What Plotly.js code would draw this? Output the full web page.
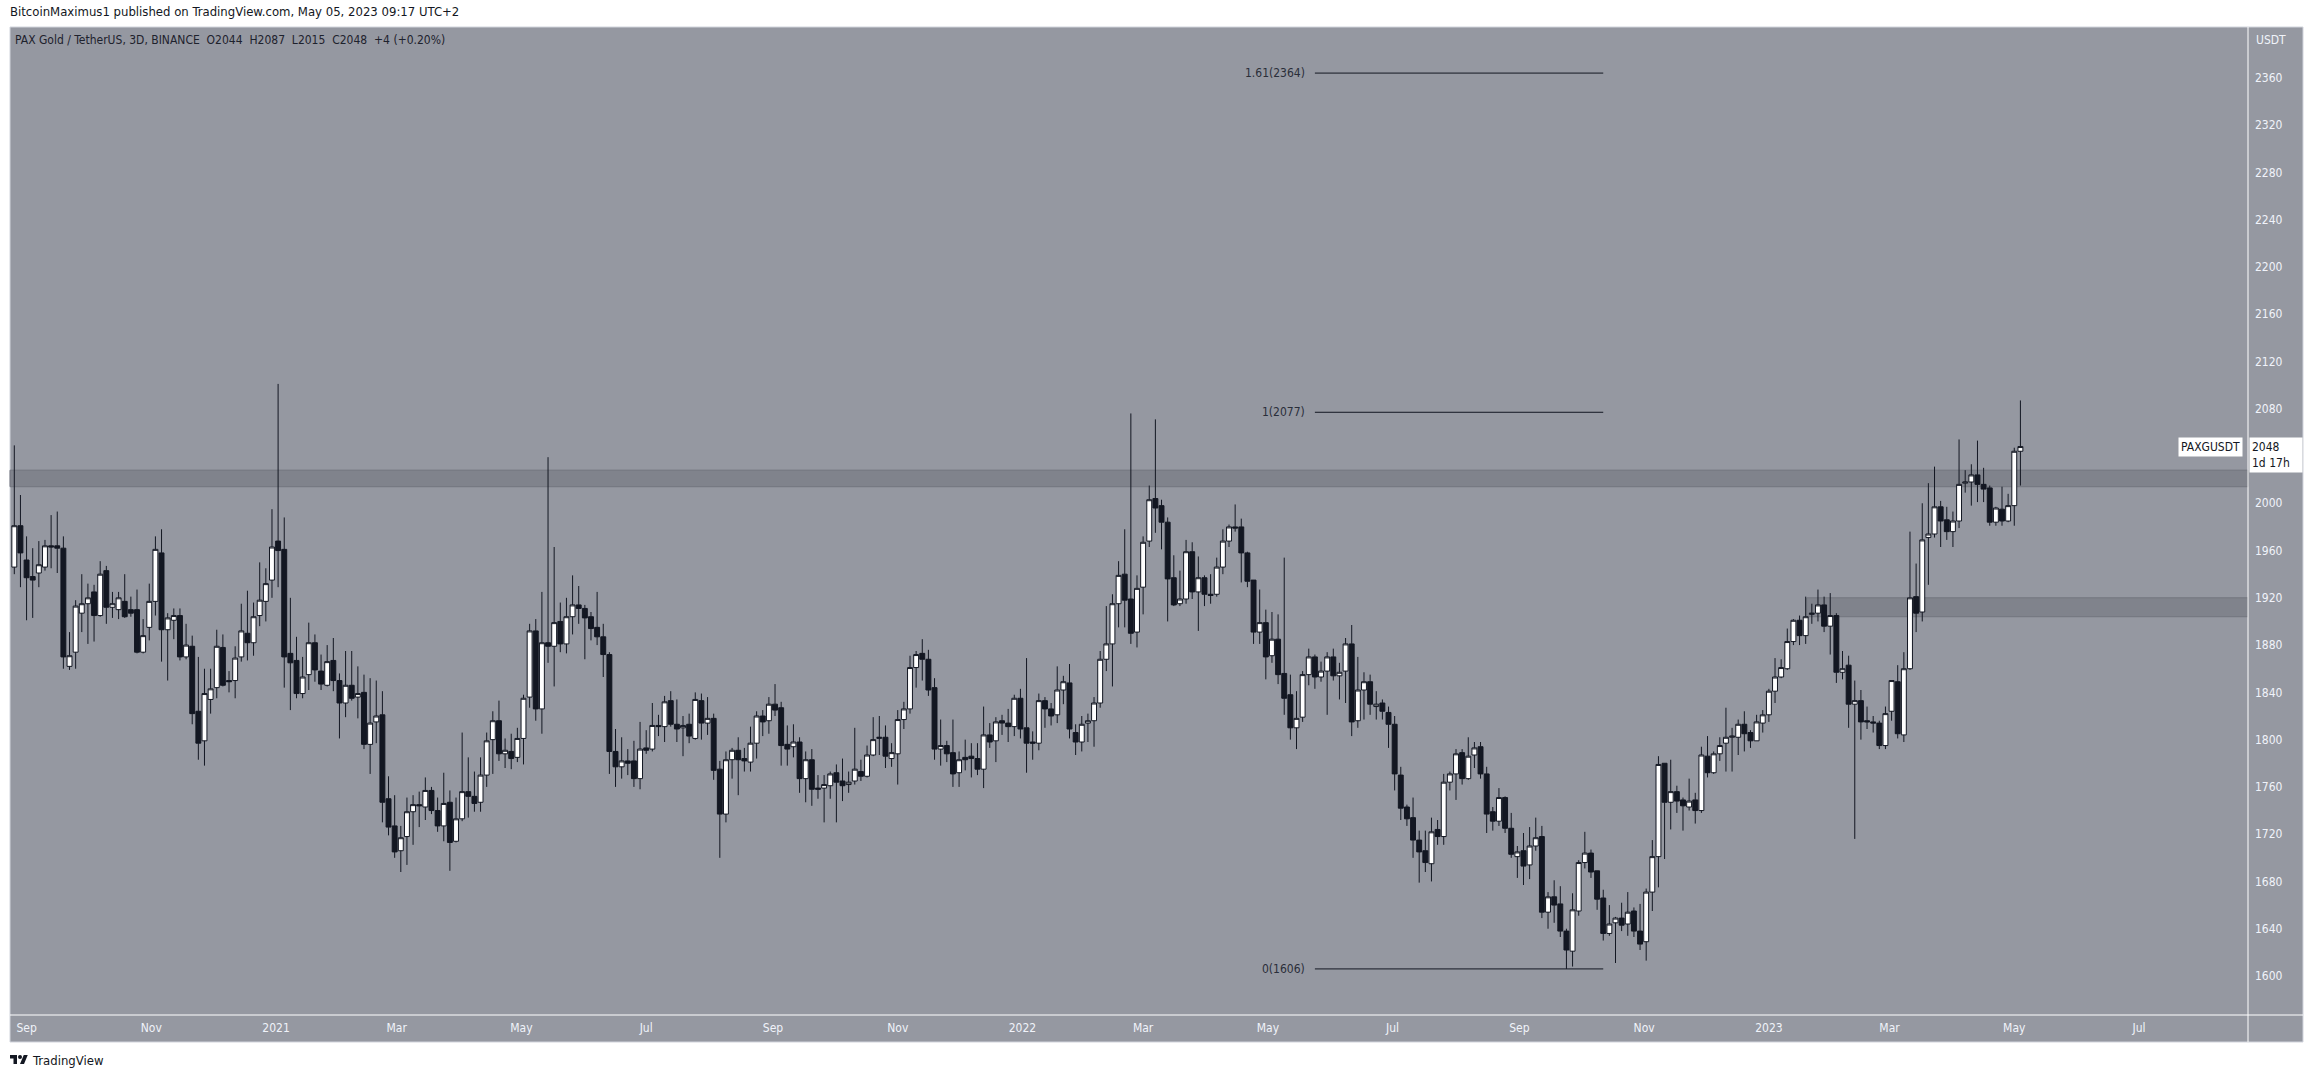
<!DOCTYPE html>
<html>
<head>
<meta charset="utf-8">
<script src="https://cdn.plot.ly/plotly-3.0.1.min.js"></script>
<style>
  html, body { margin: 0; padding: 0; background: #ffffff; }
  #chart { width: 2314px; height: 1079px; }
</style>
</head>
<body>
<div id="chart"></div>
<script>
// ---- Data: PAX Gold / TetherUS, 3D candles (Binance) ----
const firstCandleDate = '2020-08-26';
const candleDays = 3;

const open = [
1946,1981,1952,1938,1941,1946,1964,1964,1962,1862,1874,1907,1915,1925,1905,1943,1912,1910,1917,1910,
1910,1874,1895,1917,1958,1893,1901,1905,1870,1879,1824,1799,1834,1844,1878,1850,1850,1870,1890,1882,
1905,1917,1935,1968,1961,1873,1867,1839,1855,1882,1858,1846,1867,1850,1831,1846,1836,1840,1796,1815,
1821,1750,1727,1706,1718,1739,1745,1743,1757,1740,1727,1747,1714,1733,1756,1752,1747,1770,1800,1816,
1788,1790,1785,1801,1836,1892,1826,1882,1879,1900,1881,1904,1914,1911,1904,1895,1887,1872,1790,1777,
1782,1782,1767,1793,1792,1812,1811,1833,1813,1810,1813,1801,1833,1814,1818,1775,1737,1783,1791,1784,
1781,1797,1820,1816,1830,1827,1796,1794,1798,1767,1783,1759,1759,1761,1772,1765,1762,1765,1773,1769,
1787,1801,1802,1784,1788,1817,1826,1861,1873,1868,1844,1792,1795,1789,1772,1785,1786,1784,1775,1804,
1799,1816,1814,1811,1835,1810,1798,1797,1833,1826,1821,1842,1848,1806,1798,1814,1816,1831,1868,1881,
1915,1940,1919,1891,1929,1968,2004,1998,1984,1937,1915,1919,1959,1925,1937,1923,1923,1946,1968,1980,
1980,1958,1935,1891,1899,1871,1885,1856,1838,1810,1819,1855,1870,1853,1858,1870,1854,1858,1881,1816,
1842,1849,1828,1831,1823,1813,1770,1743,1734,1715,1706,1695,1724,1718,1764,1771,1789,1767,1787,1794,
1771,1739,1731,1751,1725,1701,1706,1694,1710,1718,1654,1667,1661,1638,1621,1655,1696,1704,1689,1666,
1636,1645,1649,1644,1655,1638,1629,1671,1701,1780,1747,1756,1749,1743,1749,1740,1786,1772,1788,1797,
1802,1802,1813,1806,1799,1814,1821,1841,1853,1860,1883,1901,1888,1906,1907,1914,1896,1905,1857,1863,
1830,1833,1816,1815,1814,1795,1824,1849,1804,1860,1921,1908,1971,1974,1997,1986,1976,1985,2017,2018,
2024,2016,2013,1984,1995,1985,1998,2044
];
const high = [
2049,2007,1972,1962,1968,1969,1990,1993,1972,1891,1918,1940,1932,1931,1951,1947,1925,1925,1940,1921,
1927,1902,1932,1972,1978,1907,1911,1911,1898,1888,1870,1860,1860,1893,1889,1858,1879,1915,1926,1916,
1950,1945,1995,2101,1988,1920,1887,1870,1899,1889,1872,1880,1886,1856,1875,1875,1862,1855,1852,1850,
1841,1769,1753,1727,1751,1753,1756,1768,1760,1751,1772,1757,1751,1806,1785,1773,1785,1806,1824,1833,
1801,1805,1810,1838,1898,1902,1925,2039,1963,1916,1920,1939,1930,1914,1908,1925,1898,1874,1809,1802,
1792,1799,1815,1808,1831,1821,1837,1841,1834,1820,1822,1840,1839,1836,1822,1782,1790,1793,1802,1793,
1811,1824,1825,1836,1847,1832,1812,1813,1802,1790,1792,1770,1770,1773,1779,1784,1773,1810,1783,1795,
1819,1820,1812,1797,1825,1832,1871,1875,1885,1876,1852,1817,1799,1817,1790,1800,1797,1797,1828,1814,
1819,1821,1826,1838,1843,1869,1807,1839,1836,1831,1862,1854,1864,1813,1820,1822,1836,1875,1913,1923,
1951,1978,2076,1939,1972,2015,2071,2003,1988,1956,1943,1969,1967,1955,1939,1940,1954,1978,1982,1999,
1987,1959,1935,1927,1910,1908,1906,1954,1855,1841,1858,1877,1872,1866,1874,1877,1865,1886,1897,1870,
1857,1855,1841,1834,1828,1820,1777,1745,1751,1723,1723,1734,1732,1771,1773,1792,1792,1802,1798,1798,
1777,1743,1759,1752,1738,1710,1721,1726,1734,1727,1671,1681,1676,1640,1670,1698,1722,1707,1689,1673,
1660,1650,1662,1671,1658,1661,1674,1715,1786,1780,1783,1761,1751,1767,1755,1794,1803,1790,1802,1827,
1810,1817,1824,1808,1821,1825,1843,1869,1868,1894,1902,1905,1921,1915,1927,1921,1924,1907,1875,1871,
1850,1842,1828,1820,1816,1828,1850,1863,1874,1976,1949,2000,2017,2031,2002,1997,1993,2054,2028,2033,
2053,2030,2015,1997,2014,2008,2047,2087
];
const low = [
1940,1929,1901,1903,1929,1943,1945,1941,1860,1859,1860,1891,1881,1883,1904,1898,1903,1902,1903,1904,
1873,1873,1884,1905,1866,1850,1885,1867,1868,1813,1783,1778,1822,1835,1845,1840,1835,1866,1867,1871,
1896,1900,1920,1929,1844,1825,1835,1835,1842,1849,1842,1845,1841,1801,1819,1833,1818,1792,1771,1797,
1730,1719,1700,1688,1694,1711,1726,1732,1737,1722,1714,1689,1713,1731,1734,1739,1739,1760,1771,1782,
1776,1775,1781,1779,1827,1816,1805,1865,1845,1874,1873,1889,1898,1868,1884,1880,1853,1771,1760,1767,
1770,1760,1758,1788,1790,1803,1798,1811,1798,1786,1797,1800,1800,1804,1766,1700,1730,1767,1753,1773,
1773,1784,1803,1805,1820,1778,1778,1785,1755,1747,1744,1750,1730,1750,1730,1748,1755,1762,1765,1768,
1786,1787,1776,1777,1762,1809,1822,1844,1850,1837,1783,1778,1781,1760,1760,1774,1768,1770,1759,1793,
1781,1804,1798,1803,1801,1772,1783,1791,1810,1812,1814,1830,1801,1787,1790,1798,1794,1827,1858,1845,
1895,1895,1881,1878,1906,1963,1975,1961,1900,1913,1913,1915,1919,1892,1913,1915,1921,1940,1963,1976,
1933,1929,1881,1881,1851,1865,1847,1821,1800,1792,1815,1846,1843,1849,1821,1850,1834,1831,1803,1810,
1817,1821,1817,1817,1793,1757,1732,1727,1700,1679,1688,1680,1711,1711,1757,1749,1762,1766,1776,1767,
1721,1723,1727,1721,1700,1683,1677,1682,1706,1649,1640,1645,1633,1606,1608,1651,1691,1683,1656,1630,
1634,1611,1638,1634,1633,1622,1613,1655,1675,1699,1724,1738,1723,1740,1729,1738,1768,1771,1782,1773,
1773,1787,1790,1793,1799,1806,1815,1831,1852,1859,1880,1880,1881,1898,1900,1891,1872,1848,1851,1810,
1716,1800,1809,1806,1792,1792,1816,1801,1798,1859,1891,1900,1931,1971,1963,1969,1963,1979,2009,1998,
2001,2001,1981,1981,1981,1984,1981,2015
];
const close = [
1981,1958,1937,1935,1948,1964,1963,1962,1870,1871,1913,1915,1920,1905,1940,1912,1915,1920,1904,1907,
1874,1888,1917,1961,1893,1903,1905,1870,1880,1822,1797,1839,1843,1879,1846,1849,1869,1892,1882,1904,
1918,1932,1963,1960,1870,1865,1839,1853,1882,1859,1847,1866,1850,1831,1846,1835,1839,1796,1814,1820,
1747,1726,1705,1717,1739,1745,1744,1757,1740,1727,1746,1713,1733,1756,1752,1746,1770,1799,1816,1788,
1791,1784,1801,1835,1892,1826,1882,1879,1899,1881,1904,1914,1911,1903,1894,1887,1872,1790,1777,1782,
1780,1767,1792,1791,1812,1811,1832,1813,1809,1812,1803,1834,1814,1818,1774,1737,1783,1791,1783,1782,
1797,1820,1815,1830,1825,1795,1792,1798,1767,1783,1758,1758,1762,1771,1764,1761,1764,1775,1769,1787,
1800,1802,1786,1789,1817,1826,1861,1872,1868,1842,1792,1795,1788,1771,1783,1783,1784,1775,1804,1798,
1815,1814,1811,1835,1809,1797,1797,1833,1826,1820,1842,1849,1809,1798,1813,1816,1831,1868,1881,1915,
1939,1918,1890,1928,1967,2003,1996,1984,1936,1914,1919,1959,1925,1937,1923,1922,1946,1968,1980,1979,
1958,1934,1891,1899,1870,1885,1855,1835,1810,1818,1855,1870,1853,1858,1870,1854,1857,1881,1815,1842,
1849,1830,1830,1824,1813,1771,1742,1733,1715,1705,1696,1722,1718,1764,1771,1788,1767,1786,1793,1771,
1737,1731,1751,1725,1703,1705,1693,1710,1717,1654,1667,1660,1638,1622,1656,1696,1704,1688,1665,1636,
1644,1649,1643,1654,1638,1627,1671,1701,1779,1747,1756,1748,1744,1748,1740,1787,1772,1788,1795,1802,
1803,1813,1805,1799,1815,1821,1841,1853,1861,1883,1901,1888,1904,1907,1914,1896,1905,1857,1860,1830,
1833,1815,1815,1814,1795,1822,1850,1805,1860,1920,1907,1969,1974,1997,1985,1976,1985,2016,2018,2024,
2016,2012,1984,1996,1985,1998,2044,2048
];

// Time axis labels
const monthTickDates = ['2020-09-01','2020-11-01','2021-01-01','2021-03-01','2021-05-01','2021-07-01',
  '2021-09-01','2021-11-01','2022-01-01','2022-03-01','2022-05-01','2022-07-01','2022-09-01','2022-11-01',
  '2023-01-01','2023-03-01','2023-05-01','2023-07-01'];
const monthTickText = ['Sep','Nov','2021','Mar','May','Jul','Sep','Nov','2022','Mar','May','Jul','Sep','Nov','2023','Mar','May','Jul'];
// Price axis labels (2040 sits under the last-price tag)
const priceTicks = [1600,1640,1680,1720,1760,1800,1840,1880,1920,1960,2000,2080,2120,2160,2200,2240,2280,2320,2360];
const xRange = ['2020-08-23 21:30', '2023-08-23 07:00'];
const yRange = [1567, 2403];

// Fibonacci extension drawing
const fibLabels = ['1.61(2364)', '1(2077)', '0(1606)'];
const fibPrices = [2364, 2077, 1606];
const fibStart = '2022-05-24';
const fibEnd = '2022-10-12';

// Support / resistance zones
const zoneTop = [2028, 1920];
const zoneBottom = [2014, 1904];
const zoneStart = [null, '2023-01-19 12:00'];

const lastPrice = 2048;
const symbolName = 'PAXGUSDT';
const headerText = 'BitcoinMaximus1 published on TradingView.com, May 05, 2023 09:17 UTC+2';
const legendText = 'PAX Gold / TetherUS, 3D, BINANCE  O2044  H2087  L2015  C2048  +4 (+0.20%)';

// ---- Build ----
const dates = open.map((_, i) => {
  const d = new Date(Date.parse(firstCandleDate + 'T00:00:00Z') + i * candleDays * 86400000);
  return d.toISOString().slice(0, 10);
});

const FONT = "'Liberation Sans Narrow', 'DejaVu Sans Condensed', 'Roboto Condensed', Roboto, sans-serif";
const BG = '#9598a1';
const DARK = '#131722';
const LIGHT = '#f0f3fa';

// pixel helpers for paper coords (plot area: x 10..2248, y 27..1015)
const PL = 10, PR = 2248, PT = 27, PB = 1015;
const px = v => (v - PL) / (PR - PL);
const py = v => (PB - v) / (PB - PT);

const trace = {
  type: 'candlestick',
  x: dates, open: open, high: high, low: low, close: close,
  increasing: { line: { color: DARK, width: 1 }, fillcolor: '#ffffff' },
  decreasing: { line: { color: DARK, width: 1 }, fillcolor: DARK },
  whiskerwidth: 0,
  hoverinfo: 'skip',
  showlegend: false
};

const shapes = [];
shapes.push({ type: 'rect', xref: 'paper', yref: 'paper', x0: px(10), x1: px(2303), y0: py(1042), y1: py(27),
  fillcolor: BG, line: { color: '#d1d4dc', width: 1 }, layer: 'below' });
for (let i = 0; i < zoneTop.length; i++) {
  const s = { type: 'rect', yref: 'y', y0: zoneBottom[i], y1: zoneTop[i],
    fillcolor: '#80838c', line: { color: '#72757e', width: 1 }, layer: 'below' };
  if (zoneStart[i] === null) { s.xref = 'paper'; s.x0 = 0; s.x1 = 1; }
  else { s.xref = 'x'; s.x0 = zoneStart[i]; s.x1 = xRange[1]; }
  shapes.push(s);
}
fibPrices.forEach(p => shapes.push({ type: 'line', xref: 'x', yref: 'y', x0: fibStart, x1: fibEnd, y0: p, y1: p,
  line: { color: DARK, width: 1 } }));
shapes.push({ type: 'line', xref: 'paper', yref: 'paper', x0: 1, x1: 1, y0: py(1042), y1: py(27), line: { color: '#ffffff', width: 1 } });
shapes.push({ type: 'line', xref: 'paper', yref: 'paper', x0: 0, x1: px(2303), y0: 0, y1: 0, line: { color: '#ffffff', width: 1 } });

const annotations = [];
annotations.push({ xref: 'paper', yref: 'paper', x: px(8), y: py(12), xanchor: 'left', yanchor: 'middle',
  text: headerText, showarrow: false, font: { family: FONT, size: 13, color: DARK } });
annotations.push({ xref: 'paper', yref: 'paper', x: px(13), y: py(40), xanchor: 'left', yanchor: 'middle',
  text: legendText, showarrow: false, font: { family: FONT, size: 12, color: '#1e222d' } });
annotations.push({ xref: 'paper', yref: 'paper', x: px(2254), y: py(40), xanchor: 'left', yanchor: 'middle',
  text: 'USDT', showarrow: false, font: { family: FONT, size: 12, color: LIGHT } });
fibLabels.forEach((t, i) => annotations.push({ xref: 'x', yref: 'y', x: fibStart, y: fibPrices[i], xanchor: 'right', yanchor: 'middle',
  xshift: -8, text: t, showarrow: false, font: { family: FONT, size: 12, color: '#2a2e39' } }));
annotations.push({ xref: 'paper', yref: 'y', x: 1, y: lastPrice, xanchor: 'right', yanchor: 'middle', xshift: -5,
  text: symbolName, showarrow: false, bgcolor: '#ffffff', borderpad: 2, font: { family: FONT, size: 12, color: DARK } });
annotations.push({ xref: 'paper', yref: 'y', x: 1, y: lastPrice, xanchor: 'left', yanchor: 'top', xshift: 1, yshift: 10,
  text: String(lastPrice) + '<br>1d 17h', align: 'left', showarrow: false, bgcolor: '#ffffff', borderpad: 2,
  width: 48, font: { family: FONT, size: 12, color: DARK } });
annotations.push({ xref: 'paper', yref: 'paper', x: px(30), y: py(1060), xanchor: 'left', yanchor: 'middle',
  text: 'TradingView', showarrow: false, font: { family: FONT, size: 13, color: DARK } });

const logoSvg = "<svg xmlns='http://www.w3.org/2000/svg' viewBox='0 0 36 28'><path fill='%23131722' d='M14 22H7V11H0V4h14v18zM28 22h-8l7.5-18h8L28 22z'/><circle fill='%23131722' cx='20' cy='8' r='4'/></svg>";

const layout = {
  width: 2314, height: 1079,
  margin: { l: PL, r: 2314 - PR, t: PT, b: 1079 - PB, pad: 0 },
  paper_bgcolor: '#ffffff',
  plot_bgcolor: BG,
  showlegend: false,
  boxgap: 0.2, boxgroupgap: 0,
  xaxis: {
    type: 'date', range: xRange, rangeslider: { visible: false },
    showgrid: false, zeroline: false, showline: false, ticks: '',
    tickmode: 'array', tickvals: monthTickDates, ticktext: monthTickText,
    tickfont: { family: FONT, size: 12, color: LIGHT }, ticklabelstandoff: 4, fixedrange: true
  },
  yaxis: {
    side: 'right', range: yRange, tickmode: 'array', tickvals: priceTicks, ticktext: priceTicks.map(String),
    showgrid: false, zeroline: false, showline: false, ticks: '',
    tickfont: { family: FONT, size: 12, color: LIGHT }, ticklabelstandoff: 6, fixedrange: true
  },
  shapes: shapes,
  annotations: annotations,
  images: [{ source: 'data:image/svg+xml;utf8,' + logoSvg, xref: 'paper', yref: 'paper',
    x: px(10), y: py(1053), sizex: px(28) - px(10), sizey: py(1053) - py(1067),
    xanchor: 'left', yanchor: 'top', sizing: 'contain', layer: 'above' }]
};

Plotly.newPlot('chart', [trace], layout, { staticPlot: true, displayModeBar: false });
</script>
</body>
</html>
